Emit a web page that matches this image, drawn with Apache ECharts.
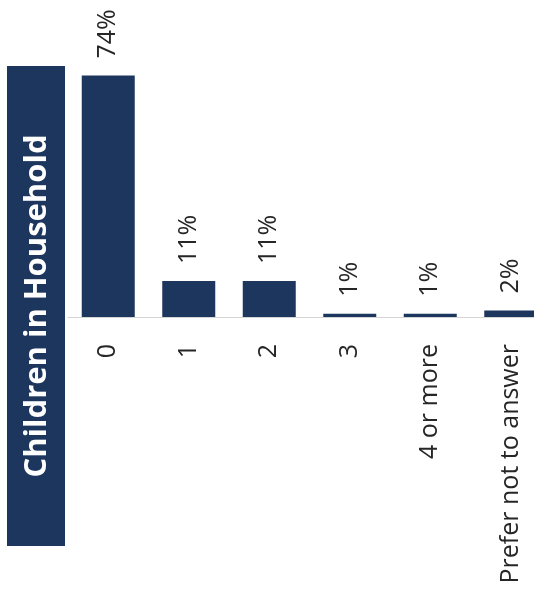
<!DOCTYPE html>
<html>
<head>
<meta charset="utf-8">
<script src="https://cdn.jsdelivr.net/npm/echarts@6/dist/echarts.min.js"></script>
<style>
  html, body { margin: 0; padding: 0; background: #ffffff; overflow: hidden; }
  /* the plot runs past the right edge of the page, so the last bar is clipped */
  #chart { width: 551px; height: 598px; }
</style>
</head>
<body>
<div id="chart"></div>
<script>
// Household survey: number of children living in the household (share of respondents)
const categories = ['0', '1', '2', '3', '4 or more', 'Prefer not to answer'];
const shares = [74, 11, 11, 1, 1, 2];
const panelTitle = 'Children in Household';

const navy = '#1d365d';
const textColor = '#262626';
const fontFamily = '"Open Sans", "Noto Sans", sans-serif';

const chart = echarts.init(document.getElementById('chart'), null, { renderer: 'canvas' });

chart.setOption({
  animation: false,
  backgroundColor: '#ffffff',
  grid: { left: 68, right: 0, top: 56, bottom: 281, containLabel: false },
  xAxis: {
    type: 'category',
    data: categories,
    axisLine: { show: true, lineStyle: { color: '#d4d4d4', width: 1 } },
    axisTick: { show: false },
    axisLabel: {
      rotate: 90,
      margin: 27,
      color: textColor,
      fontFamily: fontFamily,
      fontSize: 25,
      interval: 0
    }
  },
  yAxis: {
    type: 'value',
    min: 0,
    max: 80,
    show: false,
    splitLine: { show: false }
  },
  series: [{
    type: 'bar',
    data: shares,
    barWidth: 53,
    itemStyle: { color: navy },
    label: {
      show: true,
      position: 'top',
      rotate: 90,
      align: 'left',
      verticalAlign: 'middle',
      distance: 17,
      color: textColor,
      fontFamily: fontFamily,
      fontSize: 25,
      formatter: (p) => p.value + '%'
    }
  }],
  graphic: [{
    type: 'group',
    children: [
      {
        type: 'rect',
        shape: { x: 7, y: 66, width: 58, height: 480 },
        style: { fill: navy }
      },
      {
        type: 'text',
        x: 37,
        y: 306,
        rotation: Math.PI / 2,
        style: {
          text: panelTitle,
          fill: '#ffffff',
          font: 'bold 31px ' + fontFamily,
          align: 'center',
          verticalAlign: 'middle'
        }
      }
    ]
  }]
});
</script>
</body>
</html>
